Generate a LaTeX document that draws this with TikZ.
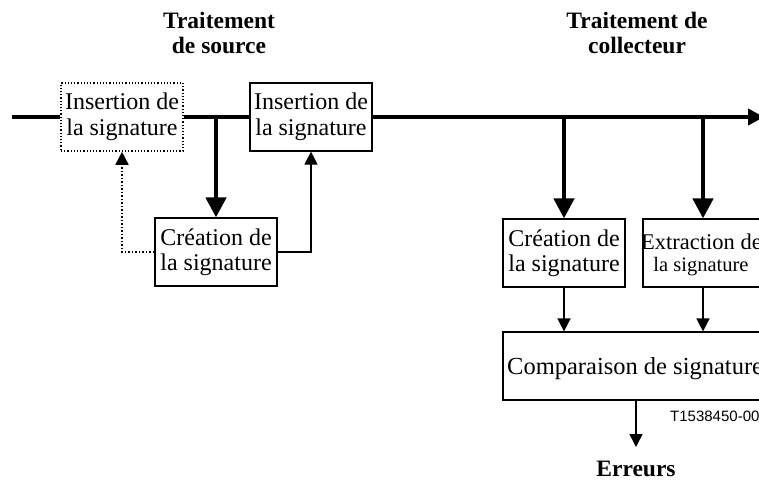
\documentclass[tikz,border=0pt]{standalone}
\usepackage{fontspec}
\setmainfont{Liberation Serif}
\newfontfamily\codefont{Liberation Sans}
\usetikzlibrary{arrows.meta}
\begin{document}
\begin{tikzpicture}[x=1pt,y=-1pt,
  box/.style={draw,line width=1.2pt,minimum width=122pt,minimum height=68pt,
    inner sep=0pt,align=center,font=\fontsize{24}{25.5}\selectfont},
  dotbox/.style={box,dotted,line width=1.6pt},
  title/.style={align=center,font=\fontsize{23.5}{24.5}\selectfont\bfseries},
  mainline/.style={line width=4.5pt},
  bigarrow/.style={line width=4.5pt,-{Triangle[width=20pt,length=20pt]}},
  thinarrow/.style={line width=1.5pt,-{Triangle[width=13pt,length=13pt]}},
  ]
\useasboundingbox (0,0) rectangle (759,482);
\clip (0,0) rectangle (759,482);

% headings
\node[title] (src) at (219,33) {Traitement\\de source};
\node[title] (col) at (637,33) {Traitement de\\collecteur};

% source side
\node[dotbox] (ins1) at (122,117) {Insertion de\\la signature};
\node[box] (ins2) at (311,117) {Insertion de\\la signature};
\node[box] (cre1) at (216,252) {Cr\'eation de\\la signature};

% collector side
\node[box] (cre2) at (564,253) {Cr\'eation de\\la signature};
\node[box,minimum width=120pt] (ext) at (703,253) {};
\node[anchor=base west,inner sep=0pt,font=\fontsize{22.5}{24}\selectfont] (extl1) at (641,249) {Extraction de};
\node[anchor=base,inner sep=0pt,font=\fontsize{20.5}{22}\selectfont] (extl2) at (701,271) {la signature};
\node[box,minimum width=262pt] (cmp) at (634,366) {};
\node[anchor=base west,inner sep=0pt,font=\fontsize{24.5}{26}\selectfont] (cmptext) at (507,374) {Comparaison de signatures};
\node[anchor=base west,inner sep=0pt,font=\codefont\fontsize{15}{17}\selectfont] (ref) at (670,421) {T1538450-00};
\node[title] (err) at (636,469) {Erreurs};

% main signal path
\coordinate (in) at (12,117);
\coordinate (out) at (764,117);
\coordinate (b1) at (216,117);
\coordinate (b2) at (564,117);
\coordinate (b3) at (703,117);
\coordinate (errtip) at (636,447);
\draw[mainline] (in) -- (ins1.west);
\draw[mainline] (ins1.east) -- (ins2.west);
\draw[line width=4.5pt,-{Triangle[width=16pt,length=16pt]}] (ins2.east) -- (out);

% branches to the signature blocks
\draw[bigarrow] (b1) -- (cre1.north);
\draw[bigarrow] (b2) -- (cre2.north);
\draw[bigarrow] (b3) -- (ext.north);

% feedback from signature creation
\draw[thinarrow,dotted,line width=1.6pt] (cre1.west) -| (ins1.south);
\draw[thinarrow,line width=1.1pt] (cre1.east) -| (ins2.south);

% comparison
\draw[thinarrow] (cre2.south) -- (cre2.south |- cmp.north);
\draw[thinarrow] (ext.south) -- (ext.south |- cmp.north);
\draw[thinarrow] (cmp.south -| errtip) -- (errtip);
\end{tikzpicture}
\end{document}
